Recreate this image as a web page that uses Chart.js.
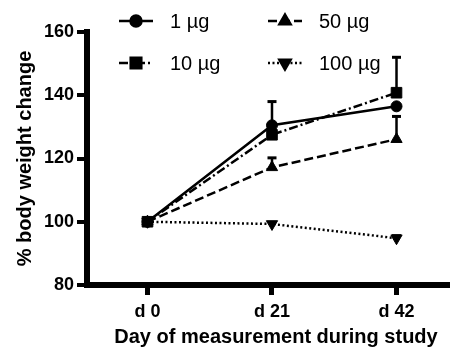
<!DOCTYPE html>
<html>
<head>
<meta charset="utf-8">
<script src="https://cdn.jsdelivr.net/npm/chart.js@4/dist/chart.umd.min.js"></script>
<style>
  body { margin: 0; background: #fff; }
  #wrap { width: 456px; height: 353px; }
</style>
</head>
<body>
<div id="wrap"><canvas id="weightChart" width="456" height="353"></canvas></div>
<script>
// Data
const days = [0, 21, 42];
const dayLabels = ['d 0', 'd 21', 'd 42'];
const seriesNames = ['1 µg', '10 µg', '50 µg', '100 µg'];
const dose1 = [100, 130.5, 136.5];
const dose10 = [100, 127.5, 140.8];
const dose50 = [100, 117.2, 126.1];
const dose100 = [100, 99.3, 94.8];
// upper error (SEM) for each point
const err1 = [0, 7.5, 0];
const err10 = [0, 0, 11.2];
const err50 = [0, 3, 7.2];
const err100 = [0, 0, 0.8];
const yTicks = [80, 100, 120, 140, 160];
const xTitle = 'Day of measurement during study';
const yTitle = '% body weight change';

const fontFamily = '"Liberation Sans", Arial, sans-serif';

function makeSet(label, values, errs, style) {
    return Object.assign({
        label: label,
        data: days.map((d, i) => ({ x: d, y: values[i] })),
        errors: errs,
        borderColor: '#000',
        backgroundColor: '#000',
        pointBackgroundColor: '#000',
        pointBorderColor: '#000',
        pointBorderWidth: 1,
        borderWidth: 2.5,
        tension: 0
    }, style);
}

// Upper-only error bars with caps
const errorBars = {
    id: 'errorBars',
    afterDatasetsDraw(chart) {
        const ctx = chart.ctx;
        const y = chart.scales.y;
        ctx.save();
        ctx.strokeStyle = '#000';
        ctx.setLineDash([]);
        chart.data.datasets.forEach((ds, di) => {
            const meta = chart.getDatasetMeta(di);
            meta.data.forEach((pt, i) => {
                const e = ds.errors[i];
                if (!e) return;
                const top = y.getPixelForValue(ds.data[i].y + e);
                ctx.lineWidth = 2.5;
                ctx.beginPath();
                ctx.moveTo(pt.x, pt.y);
                ctx.lineTo(pt.x, top);
                ctx.stroke();
                ctx.lineWidth = 3;
                ctx.beginPath();
                ctx.moveTo(pt.x - 4.5, top);
                ctx.lineTo(pt.x + 4.5, top);
                ctx.stroke();
            });
        });
        ctx.restore();
    }
};

// Two-column legend drawn over the top of the plot, plus the x title
const legendSpots = [[119, 21], [119, 63], [268, 21], [268, 63]];
const cornerLegend = {
    id: 'cornerLegend',
    afterDraw(chart) {
        const ctx = chart.ctx;
        ctx.save();
        chart.data.datasets.forEach((ds, i) => {
            const [x, y] = legendSpots[i];
            ctx.strokeStyle = '#000';
            ctx.lineWidth = ds.borderWidth;
            ctx.setLineDash(ds.borderDash || []);
            ctx.beginPath();
            ctx.moveTo(x, y);
            ctx.lineTo(x + 34, y);
            ctx.stroke();
            ctx.setLineDash([]);
            ctx.fillStyle = '#000';
            Chart.helpers.drawPoint(ctx, {
                pointStyle: ds.pointStyle,
                rotation: ds.pointRotation || 0,
                radius: ds.pointRadius,
                borderWidth: 1
            }, x + 17, y);
            ctx.font = '20px ' + fontFamily;
            ctx.textBaseline = 'middle';
            ctx.textAlign = 'left';
            ctx.fillText(ds.label, x + 51, y + 1);
        });
        ctx.font = 'bold 20px ' + fontFamily;
        ctx.textAlign = 'center';
        ctx.textBaseline = 'middle';
        ctx.fillText(xTitle, 276, 337);
        ctx.restore();
    }
};

new Chart(document.getElementById('weightChart'), {
    type: 'line',
    data: {
        datasets: [
            makeSet(seriesNames[0], dose1, err1, { pointStyle: 'circle', pointRadius: 5.5 }),
            makeSet(seriesNames[1], dose10, err10, { pointStyle: 'rect', pointRadius: 7.5, borderDash: [9, 3, 2, 3] }),
            makeSet(seriesNames[2], dose50, err50, { pointStyle: 'triangle', pointRadius: 6.5, borderDash: [9, 4] }),
            makeSet(seriesNames[3], dose100, err100, { pointStyle: 'triangle', pointRotation: 180, pointRadius: 6.5, borderWidth: 2.5, borderDash: [2, 2.5] })
        ]
    },
    options: {
        responsive: false,
        animation: false,
        devicePixelRatio: 1,
        layout: { padding: { top: 32, right: 0, left: 0, bottom: 0 } },
        plugins: {
            legend: { display: false },
            tooltip: { enabled: false }
        },
        scales: {
            x: {
                type: 'linear',
                min: -10.2,
                max: 50.6,
                afterFit(scale) { scale.height = 68; },
                afterBuildTicks(scale) { scale.ticks = days.map(v => ({ value: v })); },
                border: { display: true, color: '#000', width: 6 },
                grid: { drawOnChartArea: false, drawTicks: true, lineWidth: 5, tickLength: 10, tickWidth: 5, tickColor: '#000', color: '#000' },
                ticks: {
                    color: '#000',
                    padding: 6,
                    font: { family: fontFamily, size: 18, weight: 'bold' },
                    callback: (v) => dayLabels[days.indexOf(v)]
                }
            },
            y: {
                min: 80,
                max: 160,
                afterFit(scale) { scale.width = 87; },
                afterBuildTicks(scale) { scale.ticks = yTicks.map(v => ({ value: v })); },
                border: { display: true, color: '#000', width: 6 },
                grid: { drawOnChartArea: false, drawTicks: true, lineWidth: 4, tickLength: 10, tickWidth: 4, tickColor: '#000', color: '#000' },
                ticks: {
                    color: '#000',
                    padding: 3,
                    font: { family: fontFamily, size: 18, weight: 'bold' }
                },
                title: {
                    display: true,
                    text: yTitle,
                    color: '#000',
                    font: { family: fontFamily, size: 20, weight: 'bold' },
                    padding: { top: 13, bottom: 0 }
                }
            }
        }
    },
    plugins: [errorBars, cornerLegend]
});
</script>
</body>
</html>
